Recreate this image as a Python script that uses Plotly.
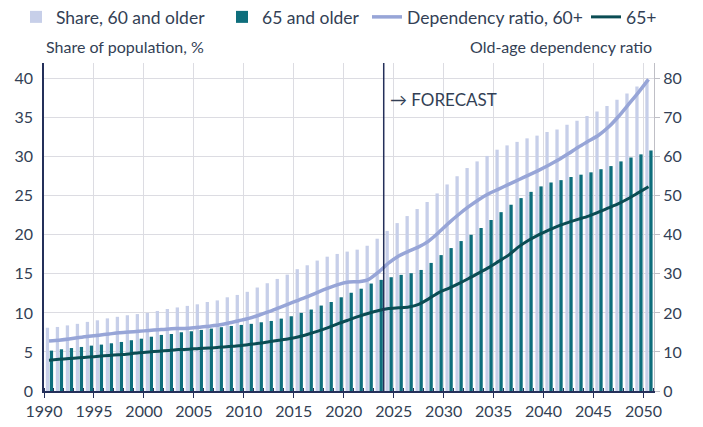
import plotly.graph_objects as go

years = list(range(1990, 2051))

share_60 = [8.1, 8.2, 8.4, 8.6, 8.85, 9.05, 9.3, 9.5, 9.7, 9.85,
            10.0, 10.25, 10.5, 10.7, 10.9, 11.1, 11.4, 11.6, 12.0, 12.3,
            12.7, 13.25, 13.8, 14.35, 14.9, 15.6, 16.1, 16.7, 17.2, 17.55,
            17.85, 18.1, 18.6, 19.5, 20.5, 21.5, 22.4, 23.3, 24.2, 25.3,
            26.45, 27.5, 28.55, 29.4, 30.1, 30.9, 31.45, 31.9, 32.35, 32.7,
            33.15, 33.5, 34.1, 34.6, 35.2, 35.8, 36.5, 37.3, 38.1, 39.0,
            39.8]

share_65 = [5.17, 5.34, 5.5, 5.64, 5.81, 5.94, 6.11, 6.28, 6.5, 6.7,
            6.95, 7.18, 7.3, 7.52, 7.65, 7.82, 7.99, 8.17, 8.33, 8.46,
            8.6, 8.8, 8.97, 9.27, 9.57, 10.0, 10.43, 10.94, 11.4, 12.0,
            12.58, 13.1, 13.76, 14.23, 14.57, 14.87, 15.08, 15.5, 16.4, 17.4,
            18.3, 19.2, 20.0, 20.87, 21.9, 22.9, 23.85, 24.7, 25.5, 26.2,
            26.7, 27.0, 27.4, 27.7, 28.0, 28.4, 28.8, 29.4, 29.9, 30.3,
            30.8]

dep_60 = [12.8, 13.0, 13.3, 13.7, 14.0, 14.3, 14.6, 14.9, 15.1, 15.3,
          15.5, 15.7, 15.9, 16.0, 16.1, 16.3, 16.6, 16.9, 17.4, 18.0,
          18.6, 19.4, 20.3, 21.3, 22.3, 23.3, 24.3, 25.4, 26.4, 27.3,
          27.9, 28.0, 28.6, 30.5, 32.8, 34.6, 35.8, 36.9, 38.4, 40.6,
          43.0, 45.2, 47.2, 49.0, 50.5, 51.7, 52.9, 54.1, 55.3, 56.5,
          57.8, 59.2, 60.8, 62.5, 64.0, 65.5, 67.6, 70.3, 73.4, 76.5,
          79.8]

dep_65 = [7.9, 8.1, 8.3, 8.5, 8.7, 8.9, 9.1, 9.3, 9.5, 9.8,
          10.0, 10.2, 10.4, 10.6, 10.7, 10.9, 11.0, 11.2, 11.4, 11.6,
          11.9, 12.2, 12.6, 13.0, 13.4, 13.9, 14.6, 15.4, 16.3, 17.3,
          18.2, 19.1, 19.9, 20.6, 21.1, 21.3, 21.5, 22.2, 23.6, 25.2,
          26.3, 27.5, 28.8, 30.2, 31.6, 33.2, 34.8, 36.9, 38.6, 40.0,
          41.2, 42.3, 43.2, 44.0, 44.8, 45.8, 46.9, 48.0, 49.3, 50.8,
          52.3]

label_years = list(range(1990, 2051, 5))
forecast_start = 2024

C_LIGHT = "#C7CFE9"
C_DARK = "#0E6E7C"
C_LINE60 = "#97A5D7"
C_LINE65 = "#0B4D54"
C_TEXT = "#333F55"
C_AXIS = "#24305A"
C_GRID = "#DCDCE2"
FONT = "Lato"

W, H = 703, 427
legend_font = dict(family=FONT, size=17.5, color=C_TEXT)


def leg(xpx, anchor="left"):
    return dict(orientation="h", xref="container", yref="container",
                x=xpx / W, y=1 - 17 / H, xanchor=anchor, yanchor="middle",
                font=legend_font, itemwidth=30, bgcolor="rgba(0,0,0,0)",
                borderwidth=0)


fig = go.Figure()
fig.add_trace(go.Bar(x=years, y=share_60, name="Share, 60 and older",
                     marker=dict(color=C_LIGHT, line=dict(width=0)),
                     offset=-0.32, width=0.33, legend="legend"))
fig.add_trace(go.Bar(x=years, y=share_65, name="65 and older",
                     marker=dict(color=C_DARK, line=dict(width=0)),
                     offset=0.08, width=0.33, legend="legend2"))
fig.add_trace(go.Scatter(x=years, y=dep_60, name="Dependency ratio, 60+",
                         yaxis="y2", mode="lines", legend="legend3",
                         line=dict(color=C_LINE60, width=3.5, shape="spline", smoothing=0.6)))
fig.add_trace(go.Scatter(x=years, y=dep_65, name="65+",
                         yaxis="y2", mode="lines", legend="legend4",
                         line=dict(color=C_LINE65, width=3, shape="spline", smoothing=0.6)))

fig.add_shape(type="line", xref="x", yref="paper",
              x0=forecast_start - 0.5, x1=forecast_start - 0.5, y0=0, y1=1,
              line=dict(color=C_AXIS, width=1.5))
fig.add_annotation(x=forecast_start - 0.5, y=(391 - 99) / 328, xref="x", yref="paper",
                   text="\u2192 FORECAST", showarrow=False, xanchor="left",
                   yanchor="middle", xshift=4,
                   font=dict(family=FONT, size=17, color=C_TEXT))

fig.add_annotation(x=0, y=1 + 16 / 328, xref="paper", yref="paper",
                   text="Share of population, %", showarrow=False,
                   xanchor="left", yanchor="middle",
                   font=dict(family=FONT, size=16, color=C_TEXT))
fig.add_annotation(x=1, y=1 + 16 / 328, xref="paper", yref="paper",
                   text="Old-age dependency ratio", showarrow=False,
                   xanchor="right", yanchor="middle",
                   font=dict(family=FONT, size=16, color=C_TEXT))

fig.update_layout(
    width=W, height=H,
    margin=dict(l=44, r=49, t=63, b=36, autoexpand=False),
    paper_bgcolor="white", plot_bgcolor="white",
    barmode="overlay",
    font=dict(family=FONT, size=15, color=C_TEXT),
    showlegend=True,
    legend=leg(16),
    legend2=leg(222),
    legend3=leg(367),
    legend4=leg(662, "right"),
    xaxis=dict(range=[years[0] - 0.5, years[-1] + 0.55],
               automargin=False,
               tickmode="array",
               tickvals=[y - 0.5 for y in label_years],
               ticktext=[str(y) for y in label_years],
               ticks="outside", ticklen=5, tickcolor=C_AXIS, tickwidth=1,
               showline=True, linecolor=C_AXIS, linewidth=1.5,
               showgrid=True, gridcolor=C_GRID, gridwidth=1,
               minor=dict(tickmode="linear", tick0=years[0] - 0.5, dtick=1,
                          ticks="inside", ticklen=3, tickcolor=C_AXIS,
                          showgrid=False),
               zeroline=False,
               tickfont=dict(family=FONT, size=16, color=C_TEXT)),
    yaxis=dict(range=[0, 42], dtick=5, showgrid=True, gridcolor=C_GRID,
               automargin=False,
               gridwidth=1, showline=True, linecolor=C_AXIS, linewidth=1.5,
               zeroline=False, ticks="", ticklabelstandoff=6,
               tickfont=dict(family=FONT, size=16, color=C_TEXT)),
    yaxis2=dict(range=[0, 84], dtick=10, overlaying="y", side="right",
                automargin=False,
                showgrid=False, showline=True, linecolor="#BFBFC6", linewidth=1,
                ticks="outside", ticklen=5, tickcolor="#BFBFC6",
                zeroline=False,
                tickfont=dict(family=FONT, size=16, color=C_TEXT)),
)

fig.write_html("out.html",
               config={"displayModeBar": False},
               post_script="document.body.style.margin='0';document.body.style.padding='0';")
